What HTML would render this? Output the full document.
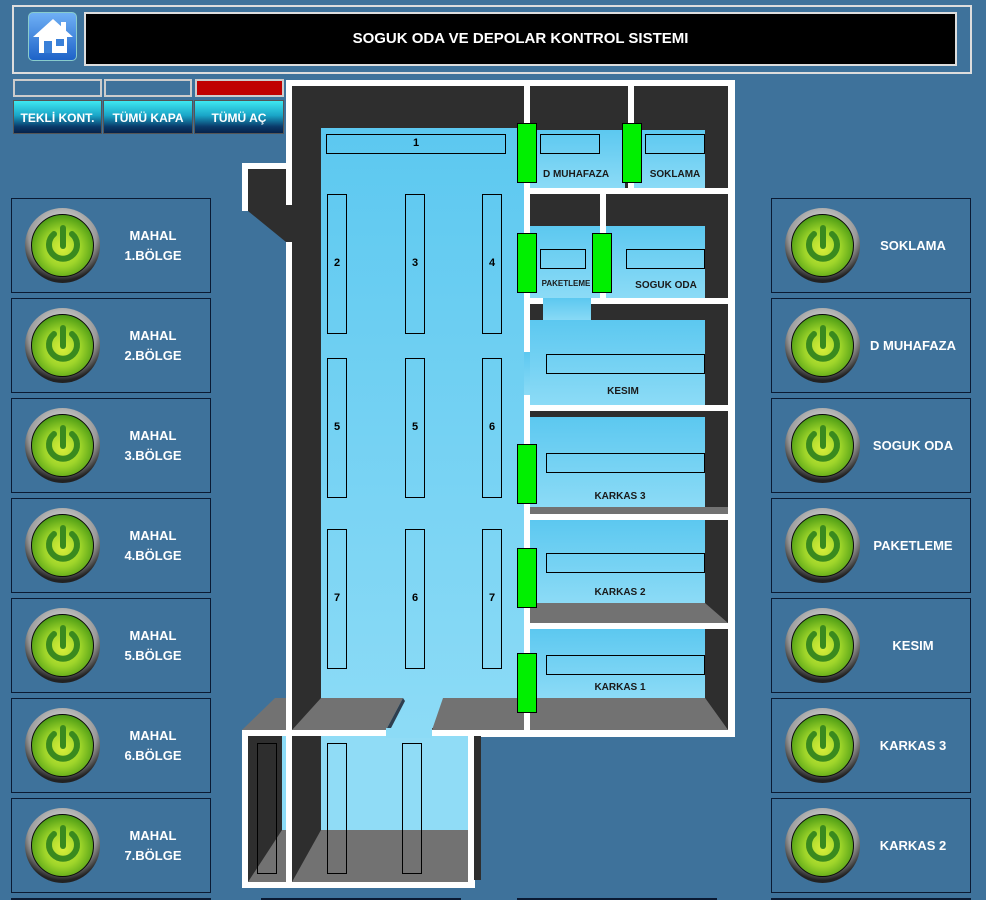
<!DOCTYPE html>
<html style="height:900px;overflow:hidden"><head><meta charset="utf-8"><style>
*{margin:0;padding:0;box-sizing:border-box}
body{width:986px;height:900px;background:#3e729b;position:relative;overflow:hidden;font-family:"Liberation Sans",sans-serif}
div{position:absolute}
.w{background:#fff}
.d{background:#2e2e2e}
.b{background:linear-gradient(#5cc8f0,#8cdbf6)}
.g{background:#727272}
.s{border:1px solid #000}
.gr{background:#00f000;border:1px solid #000}
.lb{font-weight:bold;font-size:10px;color:#1a1a1a;text-align:center;white-space:nowrap}
.n{font-weight:bold;font-size:11px;color:#000;width:100%;text-align:center;top:50%;margin-top:-7px}
.p{border:1px solid #0a1a33;width:200px;height:95px}
.p .t{left:86px;width:110px;top:0;height:100%;display:flex;align-items:center;justify-content:center;text-align:center;color:#fff;font-weight:bold;font-size:13px;line-height:20px}
.pb{left:13px;top:9px;width:75px;height:75px;border-radius:50%;background:radial-gradient(circle at 50% 35%,#f4f4f4,#999 55%,#222 75%);}
.pb i{position:absolute;left:6px;top:6px;width:63px;height:63px;border-radius:50%;background:radial-gradient(circle at 50% 55%,#d8ee3a 0%,#9ed52a 40%,#4a9a14 75%,#1a4a08 100%);border:1px solid #0a0a0a}
.pb svg{position:absolute;left:17px;top:16px}
.btn{top:100px;height:34px;background:linear-gradient(#3ee8f0,#1aa6c8 45%,#0a3a6a 80%,#06214a);color:#fff;font-weight:bold;font-size:12px;text-align:center;line-height:34px;border:1px solid #555}
.st{top:79px;height:18px;border:2px solid #ccc}
.e{top:898px;height:2px;width:200px;background:#0a1a33}
</style></head><body>
<div style="left:12px;top:5px;width:960px;height:69px;border:2px solid #ddd"></div>
<div style="left:28px;top:12px;width:49px;height:49px;border-radius:5px;background:linear-gradient(#6fb0f5,#1e63c8);border:1px solid #8cc"></div>
<svg style="position:absolute;left:31px;top:17px" width="44" height="38" viewBox="0 0 44 38"><polygon points="22,2 2,20 8,20 8,36 36,36 36,20 42,20" fill="#fff"/><rect x="30" y="5" width="5" height="10" fill="#fff"/><rect x="13" y="24" width="8" height="12" fill="#3a80d8"/><rect x="25" y="22" width="8" height="7" fill="#3a80d8"/></svg>
<div style="left:84px;top:12px;width:873px;height:54px;background:#000;border:2px solid #ddd;color:#fff;font-weight:bold;font-size:15px;text-align:center;line-height:50px">SOGUK ODA VE DEPOLAR KONTROL SISTEMI</div>
<div class="st" style="left:13px;width:89px"></div>
<div class="st" style="left:104px;width:88px"></div>
<div class="st" style="left:195px;width:89px;background:#c00000"></div>
<div class="btn" style="left:13px;width:89px">TEKLİ KONT.</div>
<div class="btn" style="left:103px;width:90px">TÜMÜ KAPA</div>
<div class="btn" style="left:194px;width:90px">TÜMÜ AÇ</div>

<div class="w" style="left:242px;top:163px;width:50px;height:48px"></div>
<div class="d" style="left:248px;top:169px;width:44px;height:36px"></div>
<div class="w" style="left:286px;top:80px;width:449px;height:657px"></div>
<div class="d" style="left:292px;top:86px;width:436px;height:644px"></div>
<svg style="position:absolute;left:248px;top:205px" width="44" height="38"><polygon points="0,0 44,0 44,37 38,37 0,6" fill="#2e2e2e"/></svg>
<div class="b" style="left:321px;top:128px;width:203px;height:600px"></div>
<svg style="position:absolute;left:242px;top:698px" width="492" height="34"><polygon points="0,32 44,32 44,0 33,0" fill="#727272"/><polygon points="50,32 79,0 161,0 144,32" fill="#727272"/><polygon points="161,0 163,3 148,32 144,32" fill="#2e3e4e"/><polygon points="190,32 201,0 463,0 486,32" fill="#727272"/></svg>
<div class="w" style="left:286px;top:730px;width:101px;height:6px"></div>
<div style="left:386px;top:728px;width:46px;height:10px;background:#8cdbf6"></div>
<div class="w" style="left:524px;top:86px;width:6px;height:266px"></div>
<div class="w" style="left:524px;top:395px;width:6px;height:335px"></div>
<div class="b" style="left:524px;top:352px;width:6px;height:43px"></div>
<div class="b" style="left:530px;top:130px;width:95px;height:58px"></div>
<div class="w" style="left:628px;top:86px;width:6px;height:102px"></div>
<div class="b" style="left:634px;top:130px;width:71px;height:58px"></div>
<div class="w" style="left:529px;top:188px;width:205px;height:6px"></div>
<div class="b" style="left:530px;top:226px;width:70px;height:72px"></div>
<div class="w" style="left:600px;top:194px;width:6px;height:104px"></div>
<div class="b" style="left:606px;top:226px;width:99px;height:72px"></div>
<div class="w" style="left:529px;top:298px;width:14px;height:6px"></div>
<div class="w" style="left:591px;top:298px;width:143px;height:6px"></div>
<div class="b" style="left:543px;top:298px;width:48px;height:24px"></div>
<div class="b" style="left:530px;top:320px;width:175px;height:85px"></div>
<div class="w" style="left:529px;top:405px;width:205px;height:6px"></div>
<div class="b" style="left:530px;top:417px;width:175px;height:90px"></div>
<div class="g" style="left:530px;top:507px;width:198px;height:7px"></div>
<div class="w" style="left:529px;top:514px;width:205px;height:6px"></div>
<div class="b" style="left:530px;top:520px;width:175px;height:83px"></div>
<svg style="position:absolute;left:530px;top:603px" width="198" height="20"><polygon points="0,0 175,0 198,20 0,20" fill="#727272"/></svg>
<div class="w" style="left:529px;top:623px;width:205px;height:6px"></div>
<div class="b" style="left:530px;top:629px;width:175px;height:69px"></div>
<svg style="position:absolute;left:530px;top:698px" width="198" height="32"><polygon points="0,0 175,0 198,32 0,32" fill="#727272"/></svg>
<div class="w" style="left:242px;top:730px;width:233px;height:158px"></div>
<div class="d" style="left:248px;top:736px;width:34px;height:146px"></div>
<div style="left:282px;top:736px;width:4px;height:146px;background:#8cdbf6"></div>
<svg style="position:absolute;left:248px;top:830px" width="38" height="52"><polygon points="0,52 38,52 38,0 34,0" fill="#727272"/></svg>
<div class="w" style="left:286px;top:736px;width:6px;height:146px"></div>
<div class="d" style="left:292px;top:736px;width:29px;height:146px"></div>
<div style="left:321px;top:736px;width:147px;height:94px;background:#90dcf6"></div>
<div style="left:386px;top:730px;width:46px;height:8px;background:#8cdbf6"></div>
<svg style="position:absolute;left:292px;top:830px" width="176" height="52"><polygon points="0,52 29,0 176,0 176,52" fill="#727272"/></svg>
<div style="left:474px;top:736px;width:7px;height:144px;background:#2e2e2e"></div>
<div class="s" style="left:326px;top:134px;width:180px;height:20px"><div class="n">1</div></div>
<div class="s" style="left:327px;top:194px;width:20px;height:140px"><div class="n">2</div></div>
<div class="s" style="left:405px;top:194px;width:20px;height:140px"><div class="n">3</div></div>
<div class="s" style="left:482px;top:194px;width:20px;height:140px"><div class="n">4</div></div>
<div class="s" style="left:327px;top:358px;width:20px;height:140px"><div class="n">5</div></div>
<div class="s" style="left:405px;top:358px;width:20px;height:140px"><div class="n">5</div></div>
<div class="s" style="left:482px;top:358px;width:20px;height:140px"><div class="n">6</div></div>
<div class="s" style="left:327px;top:529px;width:20px;height:140px"><div class="n">7</div></div>
<div class="s" style="left:405px;top:529px;width:20px;height:140px"><div class="n">6</div></div>
<div class="s" style="left:482px;top:529px;width:20px;height:140px"><div class="n">7</div></div>
<div class="s" style="left:540px;top:134px;width:60px;height:20px"></div>
<div class="s" style="left:645px;top:134px;width:60px;height:20px"></div>
<div class="s" style="left:540px;top:249px;width:46px;height:20px"></div>
<div class="s" style="left:626px;top:249px;width:79px;height:20px"></div>
<div class="s" style="left:546px;top:354px;width:159px;height:20px"></div>
<div class="s" style="left:546px;top:453px;width:159px;height:20px"></div>
<div class="s" style="left:546px;top:553px;width:159px;height:20px"></div>
<div class="s" style="left:546px;top:655px;width:159px;height:20px"></div>
<div class="s" style="left:257px;top:743px;width:20px;height:131px"></div>
<div class="s" style="left:327px;top:743px;width:20px;height:131px"></div>
<div class="s" style="left:402px;top:743px;width:20px;height:131px"></div>
<div class="gr" style="left:517px;top:123px;width:20px;height:60px"></div>
<div class="gr" style="left:622px;top:123px;width:20px;height:60px"></div>
<div class="gr" style="left:517px;top:233px;width:20px;height:60px"></div>
<div class="gr" style="left:592px;top:233px;width:20px;height:60px"></div>
<div class="gr" style="left:517px;top:444px;width:20px;height:60px"></div>
<div class="gr" style="left:517px;top:548px;width:20px;height:60px"></div>
<div class="gr" style="left:517px;top:653px;width:20px;height:60px"></div>
<div class="lb" style="left:536px;top:169px;width:80px">D MUHAFAZA</div>
<div class="lb" style="left:640px;top:169px;width:70px">SOKLAMA</div>
<div class="lb" style="left:538px;top:279px;width:56px;font-size:8px">PAKETLEME</div>
<div class="lb" style="left:626px;top:280px;width:80px">SOGUK ODA</div>
<div class="lb" style="left:583px;top:386px;width:80px">KESIM</div>
<div class="lb" style="left:580px;top:491px;width:80px">KARKAS 3</div>
<div class="lb" style="left:580px;top:587px;width:80px">KARKAS 2</div>
<div class="lb" style="left:580px;top:682px;width:80px">KARKAS 1</div>

<svg width="0" height="0" style="position:absolute"><defs><symbol id="pw" viewBox="0 0 42 42"><path d="M12 10 A14 14 0 1 0 30 10" fill="none" stroke="#3a8a1e" stroke-width="6" stroke-linecap="round"/><line x1="21" y1="4" x2="21" y2="22" stroke="#3a8a1e" stroke-width="6" stroke-linecap="round"/></symbol></defs></svg>
<div class="e" style="left:11px"></div><div class="e" style="left:261px"></div><div class="e" style="left:517px"></div><div class="e" style="left:771px"></div>
<script>
var L=["MAHAL<br>1.BÖLGE","MAHAL<br>2.BÖLGE","MAHAL<br>3.BÖLGE","MAHAL<br>4.BÖLGE","MAHAL<br>5.BÖLGE","MAHAL<br>6.BÖLGE","MAHAL<br>7.BÖLGE"];
var R=["SOKLAMA","D MUHAFAZA","SOGUK ODA","PAKETLEME","KESIM","KARKAS 3","KARKAS 2"];
var h="";
function pan(x,y,t){return '<div class="p" style="left:'+x+'px;top:'+y+'px"><div class="pb"><i></i><svg width="42" height="42"><use href="#pw"/></svg></div><div class="t">'+t+'</div></div>';}
for(var i=0;i<7;i++){h+=pan(11,198+i*100,L[i]);h+=pan(771,198+i*100,R[i]);}
document.body.insertAdjacentHTML("beforeend",h);
</script>
</body></html>
